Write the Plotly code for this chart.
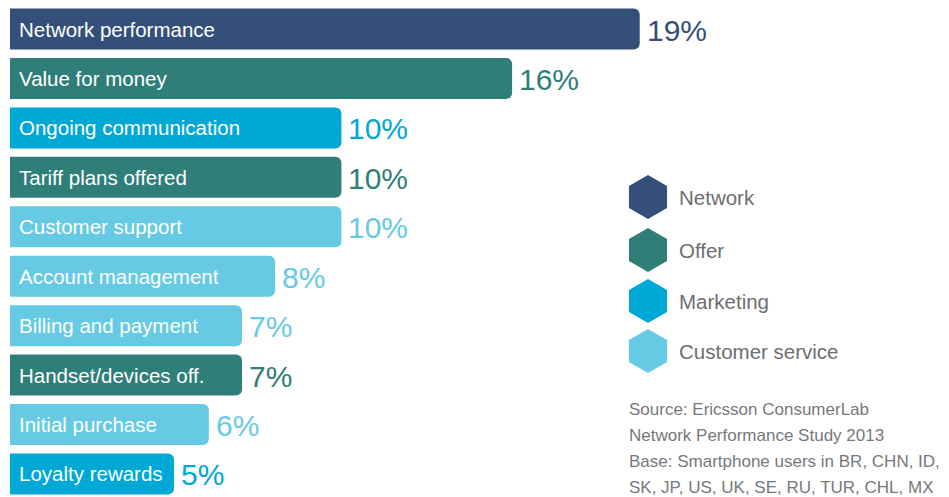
import plotly.graph_objects as go

categories = ["Network performance", "Value for money", "Ongoing communication",
              "Tariff plans offered", "Customer support", "Account management",
              "Billing and payment", "Handset/devices off.", "Initial purchase",
              "Loyalty rewards"]
bar_values = [19.0, 15.15, 10.0, 10.0, 10.0, 8.0, 7.0, 7.0, 6.0, 4.95]
pct_labels = ["19%", "16%", "10%", "10%", "10%", "8%", "7%", "7%", "6%", "5%"]
groups = ["Network", "Offer", "Marketing", "Offer", "Customer service",
          "Customer service", "Customer service", "Offer", "Customer service",
          "Marketing"]

legend_labels = ["Network", "Offer", "Marketing", "Customer service"]
group_colors = {"Network": "#34507a", "Offer": "#307e78",
                "Marketing": "#00a8d5", "Customer service": "#66cae4"}

source_lines = ["Source: Ericsson ConsumerLab",
                "Network Performance Study 2013",
                "Base: Smartphone users in BR, CHN, ID,",
                "SK, JP, US, UK, SE, RU, TUR, CHL, MX"]

FONT = "Liberation Sans, Arial, sans-serif"
W, H = 949, 497
ML, MR = 10, 11

bar_colors = [group_colors[g] for g in groups]

fig = go.Figure()
fig.add_trace(go.Bar(
    y=categories, x=bar_values, orientation="h",
    marker=dict(color=bar_colors, line=dict(width=0)),
    width=0.83, hoverinfo="skip", showlegend=False,
))

annotations = []
for cat, v, lab, col in zip(categories, bar_values, pct_labels, bar_colors):
    annotations.append(dict(x=0, y=cat, xref="x", yref="y", text=cat,
                            showarrow=False, xanchor="left", yanchor="middle",
                            xshift=7, font=dict(family=FONT, size=20.5, color="white")))
    annotations.append(dict(x=v, y=cat, xref="x", yref="y", text=lab,
                            showarrow=False, xanchor="left", yanchor="middle",
                            xshift=5, yshift=-1,
                            font=dict(family=FONT, size=30, color=col)))

# legend (pixel-like overlay axes)
leg_y = [197, 250, 301, 351]
fig.add_trace(go.Scatter(
    x=[648] * len(legend_labels), y=leg_y, mode="markers",
    marker=dict(symbol="hexagon", size=44,
                color=[group_colors[g] for g in legend_labels],
                line=dict(width=0)),
    xaxis="x2", yaxis="y2", hoverinfo="skip", showlegend=False,
))
for lab, yy in zip(legend_labels, leg_y):
    annotations.append(dict(x=677, y=yy, xref="x2", yref="y2", text=lab,
                            showarrow=False, xanchor="left", yanchor="middle",
                            font=dict(family=FONT, size=20.5, color="#6d6e71")))

src_y = [409.5, 435.5, 461.5, 487]
for line, yy in zip(source_lines, src_y):
    annotations.append(dict(x=627, y=yy, xref="x2", yref="y2", text=line,
                            showarrow=False, xanchor="left", yanchor="middle",
                            font=dict(family=FONT, size=17, color="#77787b")))

fig.update_layout(
    width=W, height=H,
    margin=dict(l=ML, r=MR, t=0, b=0, pad=0),
    paper_bgcolor="white", plot_bgcolor="white",
    barcornerradius=6,
    showlegend=False,
    xaxis=dict(range=[0, 28], visible=False, fixedrange=True),
    yaxis=dict(type="category", categoryorder="array", categoryarray=categories,
               range=[9.466, -0.587], visible=False, fixedrange=True),
    xaxis2=dict(range=[ML, W - MR], overlaying="x", visible=False, anchor="y2",
                fixedrange=True),
    yaxis2=dict(range=[H, 0], overlaying="y", visible=False, anchor="x2",
                fixedrange=True),
    annotations=annotations,
)

fig.write_html("out.html", config={"displayModeBar": False},
               post_script="document.body.style.margin='0';document.body.style.overflow='hidden';")
